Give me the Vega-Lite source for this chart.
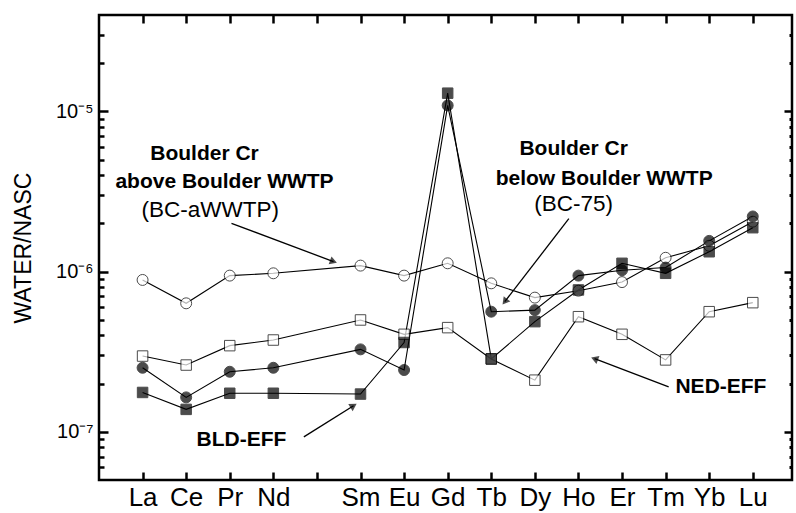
{
  "$schema": "https://vega.github.io/schema/vega-lite/v6.json",
  "padding": {"left": 11, "top": 12, "right": 0, "bottom": 0},
  "config": {
    "view": {"stroke": "black", "strokeWidth": 2.5},
    "axis": {"grid": false, "domain": false, "labelColor": "black", "tickColor": "black", "labelFont": "Liberation Sans", "titleFont": "Liberation Sans", "titleColor": "black", "labelOverlap": false, "labelFlush": false},
    "text": {"font": "Liberation Sans", "color": "black"}
  },
  "hconcat": [
    {
      "width": 693,
      "height": 465,
      "layer": [
        {
          "data": {"values": [
            {"s": "BC-aWWTP", "z": 57, "v": 8.87e-7}, {"s": "BC-aWWTP", "z": 58, "v": 6.34e-7}, {"s": "BC-aWWTP", "z": 59, "v": 9.44e-7}, {"s": "BC-aWWTP", "z": 60, "v": 9.76e-7}, {"s": "BC-aWWTP", "z": 62, "v": 1.09e-6}, {"s": "BC-aWWTP", "z": 63, "v": 9.44e-7}, {"s": "BC-aWWTP", "z": 64, "v": 1.127e-6}, {"s": "BC-aWWTP", "z": 65, "v": 8.45e-7}, {"s": "BC-aWWTP", "z": 66, "v": 6.88e-7}, {"s": "BC-aWWTP", "z": 67, "v": 7.6e-7}, {"s": "BC-aWWTP", "z": 68, "v": 8.6e-7}, {"s": "BC-aWWTP", "z": 69, "v": 1.22e-6}, {"s": "BC-aWWTP", "z": 70, "v": 1.45e-6}, {"s": "BC-aWWTP", "z": 71, "v": 2.05e-6},
            {"s": "NED-EFF", "z": 57, "v": 2.97e-7}, {"s": "NED-EFF", "z": 58, "v": 2.61e-7}, {"s": "NED-EFF", "z": 59, "v": 3.45e-7}, {"s": "NED-EFF", "z": 60, "v": 3.74e-7}, {"s": "NED-EFF", "z": 62, "v": 4.99e-7}, {"s": "NED-EFF", "z": 63, "v": 4.06e-7}, {"s": "NED-EFF", "z": 64, "v": 4.47e-7}, {"s": "NED-EFF", "z": 65, "v": 2.85e-7}, {"s": "NED-EFF", "z": 66, "v": 2.1e-7}, {"s": "NED-EFF", "z": 67, "v": 5.23e-7}, {"s": "NED-EFF", "z": 68, "v": 4.06e-7}, {"s": "NED-EFF", "z": 69, "v": 2.81e-7}, {"s": "NED-EFF", "z": 70, "v": 5.62e-7}, {"s": "NED-EFF", "z": 71, "v": 6.4e-7},
            {"s": "BC-75", "z": 57, "v": 2.51e-7}, {"s": "BC-75", "z": 58, "v": 1.64e-7}, {"s": "BC-75", "z": 59, "v": 2.37e-7}, {"s": "BC-75", "z": 60, "v": 2.51e-7}, {"s": "BC-75", "z": 62, "v": 3.27e-7}, {"s": "BC-75", "z": 63, "v": 2.43e-7}, {"s": "BC-75", "z": 64, "v": 1.09e-5}, {"s": "BC-75", "z": 65, "v": 5.62e-7}, {"s": "BC-75", "z": 66, "v": 5.75e-7}, {"s": "BC-75", "z": 67, "v": 9.44e-7}, {"s": "BC-75", "z": 68, "v": 1.02e-6}, {"s": "BC-75", "z": 69, "v": 1.06e-6}, {"s": "BC-75", "z": 70, "v": 1.556e-6}, {"s": "BC-75", "z": 71, "v": 2.21e-6},
            {"s": "BLD-EFF", "z": 57, "v": 1.76e-7}, {"s": "BLD-EFF", "z": 58, "v": 1.38e-7}, {"s": "BLD-EFF", "z": 59, "v": 1.74e-7}, {"s": "BLD-EFF", "z": 60, "v": 1.74e-7}, {"s": "BLD-EFF", "z": 62, "v": 1.72e-7}, {"s": "BLD-EFF", "z": 63, "v": 3.61e-7}, {"s": "BLD-EFF", "z": 64, "v": 1.3e-5}, {"s": "BLD-EFF", "z": 65, "v": 2.85e-7}, {"s": "BLD-EFF", "z": 66, "v": 4.87e-7}, {"s": "BLD-EFF", "z": 67, "v": 7.68e-7}, {"s": "BLD-EFF", "z": 68, "v": 1.127e-6}, {"s": "BLD-EFF", "z": 69, "v": 9.76e-7}, {"s": "BLD-EFF", "z": 70, "v": 1.33e-6}, {"s": "BLD-EFF", "z": 71, "v": 1.88e-6}
          ]},
          "mark": {"type": "line", "color": "black", "strokeWidth": 1.1},
          "encoding": {
            "x": {"field": "z", "type": "quantitative", "scale": {"domain": [56, 71.9], "nice": false, "zero": false},
              "axis": {"orient": "bottom", "title": null, "values": [57, 58, 59, 60, 61, 62, 63, 64, 65, 66, 67, 68, 69, 70, 71],
                "tickSize": -8, "tickWidth": 2.5, "labelFontSize": 26, "labelPadding": 12,
                "labelExpr": "['La','Ce','Pr','Nd','','Sm','Eu','Gd','Tb','Dy','Ho','Er','Tm','Yb','Lu'][datum.value - 57]"}},
            "y": {"field": "v", "type": "quantitative", "scale": {"type": "log", "domain": [5e-8, 4e-5], "nice": false},
              "axis": {"orient": "left", "title": "WATER/NASC", "titleFontSize": 23, "titleFontWeight": "normal", "titlePadding": 20,
                "values": [1e-7, 1e-6, 1e-5], "tickSize": -9, "tickWidth": 2.5, "labelFontSize": 20, "labelPadding": 15,
                "labelExpr": "datum.value > 5e-6 ? '10⁻⁵' : datum.value > 5e-7 ? '10⁻⁶' : '10⁻⁷'"}},
            "detail": {"field": "s", "type": "nominal"}
          }
        },
        {
          "data": {"values": [
            {"s": "BC-aWWTP", "z": 57, "v": 8.87e-7}, {"s": "BC-aWWTP", "z": 58, "v": 6.34e-7}, {"s": "BC-aWWTP", "z": 59, "v": 9.44e-7}, {"s": "BC-aWWTP", "z": 60, "v": 9.76e-7}, {"s": "BC-aWWTP", "z": 62, "v": 1.09e-6}, {"s": "BC-aWWTP", "z": 63, "v": 9.44e-7}, {"s": "BC-aWWTP", "z": 64, "v": 1.127e-6}, {"s": "BC-aWWTP", "z": 65, "v": 8.45e-7}, {"s": "BC-aWWTP", "z": 66, "v": 6.88e-7}, {"s": "BC-aWWTP", "z": 67, "v": 7.6e-7}, {"s": "BC-aWWTP", "z": 68, "v": 8.6e-7}, {"s": "BC-aWWTP", "z": 69, "v": 1.22e-6}, {"s": "BC-aWWTP", "z": 70, "v": 1.45e-6}, {"s": "BC-aWWTP", "z": 71, "v": 2.05e-6}
          ]},
          "mark": {"type": "point", "shape": "circle", "filled": true, "fill": "white", "stroke": "black", "strokeWidth": 1, "size": 120},
          "encoding": {
            "x": {"field": "z", "type": "quantitative",
              "axis": {"orient": "top", "title": null, "labels": false, "values": [57, 58, 59, 60, 61, 62, 63, 64, 65, 66, 67, 68, 69, 70, 71], "tickSize": -8, "tickWidth": 2.5}},
            "y": {"field": "v", "type": "quantitative",
              "axis": {"orient": "right", "title": null, "labels": false, "values": [1e-7, 1e-6, 1e-5], "tickSize": -8, "tickWidth": 2.5}}
          }
        },
        {
          "data": {"values": [
            {"s": "NED-EFF", "z": 57, "v": 2.97e-7}, {"s": "NED-EFF", "z": 58, "v": 2.61e-7}, {"s": "NED-EFF", "z": 59, "v": 3.45e-7}, {"s": "NED-EFF", "z": 60, "v": 3.74e-7}, {"s": "NED-EFF", "z": 62, "v": 4.99e-7}, {"s": "NED-EFF", "z": 63, "v": 4.06e-7}, {"s": "NED-EFF", "z": 64, "v": 4.47e-7}, {"s": "NED-EFF", "z": 65, "v": 2.85e-7}, {"s": "NED-EFF", "z": 66, "v": 2.1e-7}, {"s": "NED-EFF", "z": 67, "v": 5.23e-7}, {"s": "NED-EFF", "z": 68, "v": 4.06e-7}, {"s": "NED-EFF", "z": 69, "v": 2.81e-7}, {"s": "NED-EFF", "z": 70, "v": 5.62e-7}, {"s": "NED-EFF", "z": 71, "v": 6.4e-7}
          ]},
          "mark": {"type": "point", "shape": "square", "filled": true, "fill": "white", "stroke": "black", "strokeWidth": 1, "size": 110},
          "encoding": {
            "x": {"field": "z", "type": "quantitative",
              "axis": {"orient": "top", "title": null, "labels": false, "ticks": false, "domain": false}},
            "y": {"field": "v", "type": "quantitative",
              "axis": {"orient": "left", "title": null, "labels": false, "tickSize": -5, "tickWidth": 2.5,
                "values": [6e-8, 7e-8, 8e-8, 9e-8, 2e-7, 3e-7, 4e-7, 5e-7, 6e-7, 7e-7, 8e-7, 9e-7, 2e-6, 3e-6, 4e-6, 5e-6, 6e-6, 7e-6, 8e-6, 9e-6, 2e-5, 3e-5]}}
          }
        },
        {
          "data": {"values": [
            {"s": "BC-75", "z": 57, "v": 2.51e-7}, {"s": "BC-75", "z": 58, "v": 1.64e-7}, {"s": "BC-75", "z": 59, "v": 2.37e-7}, {"s": "BC-75", "z": 60, "v": 2.51e-7}, {"s": "BC-75", "z": 62, "v": 3.27e-7}, {"s": "BC-75", "z": 63, "v": 2.43e-7}, {"s": "BC-75", "z": 64, "v": 1.09e-5}, {"s": "BC-75", "z": 65, "v": 5.62e-7}, {"s": "BC-75", "z": 66, "v": 5.75e-7}, {"s": "BC-75", "z": 67, "v": 9.44e-7}, {"s": "BC-75", "z": 68, "v": 1.02e-6}, {"s": "BC-75", "z": 69, "v": 1.06e-6}, {"s": "BC-75", "z": 70, "v": 1.556e-6}, {"s": "BC-75", "z": 71, "v": 2.21e-6}
          ]},
          "mark": {"type": "point", "shape": "circle", "filled": true, "fill": "black", "stroke": "black", "strokeWidth": 1, "size": 120},
          "encoding": {
            "x": {"field": "z", "type": "quantitative",
              "axis": {"orient": "bottom", "title": null, "labels": false, "ticks": false, "domain": false}},
            "y": {"field": "v", "type": "quantitative",
              "axis": {"orient": "right", "title": null, "labels": false, "tickSize": -3, "tickWidth": 3,
                "values": [6e-8, 7e-8, 8e-8, 9e-8, 2e-7, 3e-7, 4e-7, 5e-7, 6e-7, 7e-7, 8e-7, 9e-7, 2e-6, 3e-6, 4e-6, 5e-6, 6e-6, 7e-6, 8e-6, 9e-6, 2e-5, 3e-5]}}
          }
        },
        {
          "data": {"values": [
            {"s": "BLD-EFF", "z": 57, "v": 1.76e-7}, {"s": "BLD-EFF", "z": 58, "v": 1.38e-7}, {"s": "BLD-EFF", "z": 59, "v": 1.74e-7}, {"s": "BLD-EFF", "z": 60, "v": 1.74e-7}, {"s": "BLD-EFF", "z": 62, "v": 1.72e-7}, {"s": "BLD-EFF", "z": 63, "v": 3.61e-7}, {"s": "BLD-EFF", "z": 64, "v": 1.3e-5}, {"s": "BLD-EFF", "z": 65, "v": 2.85e-7}, {"s": "BLD-EFF", "z": 66, "v": 4.87e-7}, {"s": "BLD-EFF", "z": 67, "v": 7.68e-7}, {"s": "BLD-EFF", "z": 68, "v": 1.127e-6}, {"s": "BLD-EFF", "z": 69, "v": 9.76e-7}, {"s": "BLD-EFF", "z": 70, "v": 1.33e-6}, {"s": "BLD-EFF", "z": 71, "v": 1.88e-6}
          ]},
          "mark": {"type": "point", "shape": "square", "filled": true, "fill": "black", "stroke": "black", "strokeWidth": 1, "size": 110},
          "encoding": {
            "x": {"field": "z", "type": "quantitative", "axis": null},
            "y": {"field": "v", "type": "quantitative", "axis": null}
          }
        },
        {
          "data": {"values": [
            {"t": "Boulder Cr", "x": 58.42, "y": 5.46e-6},
            {"t": "above Boulder WWTP", "x": 58.88, "y": 3.65e-6},
            {"t": "Boulder Cr", "x": 66.89, "y": 5.79e-6},
            {"t": "below Boulder WWTP", "x": 67.59, "y": 3.81e-6},
            {"t": "BLD-EFF", "x": 59.27, "y": 8.91e-8},
            {"t": "NED-EFF", "x": 70.27, "y": 1.91e-7}
          ]},
          "mark": {"type": "text", "fontSize": 21, "fontWeight": "bold", "align": "center", "baseline": "middle"},
          "encoding": {
            "x": {"field": "x", "type": "quantitative", "axis": null},
            "y": {"field": "y", "type": "quantitative", "axis": null},
            "text": {"field": "t", "type": "nominal"}
          }
        },
        {
          "data": {"values": [
            {"t": "(BC-aWWTP)", "x": 58.55, "y": 2.44e-6},
            {"t": "(BC-75)", "x": 66.89, "y": 2.66e-6}
          ]},
          "mark": {"type": "text", "fontSize": 22.5, "fontWeight": "normal", "align": "center", "baseline": "middle"},
          "encoding": {
            "x": {"field": "x", "type": "quantitative", "axis": null},
            "y": {"field": "y", "type": "quantitative", "axis": null},
            "text": {"field": "t", "type": "nominal"}
          }
        },
        {
          "data": {"values": [
            {"x": 59.04, "y": 2.0e-6, "x2": 61.38, "y2": 1.155e-6},
            {"x": 60.7, "y": 9.3e-8, "x2": 61.84, "y2": 1.454e-7},
            {"x": 66.78, "y": 2.14e-6, "x2": 65.31, "y2": 6.49e-7},
            {"x": 69.07, "y": 1.91e-7, "x2": 67.37, "y2": 2.86e-7}
          ]},
          "mark": {"type": "rule", "color": "black", "strokeWidth": 1.3},
          "encoding": {
            "x": {"field": "x", "type": "quantitative", "axis": null},
            "y": {"field": "y", "type": "quantitative", "axis": null},
            "x2": {"field": "x2"},
            "y2": {"field": "y2"}
          }
        },
        {
          "data": {"values": [{"x": 61.38, "y": 1.155e-6}]},
          "mark": {"type": "point", "shape": "triangle-up", "filled": true, "color": "black", "size": 70, "angle": 110},
          "encoding": {"x": {"field": "x", "type": "quantitative", "axis": null}, "y": {"field": "y", "type": "quantitative", "axis": null}}
        },
        {
          "data": {"values": [{"x": 61.84, "y": 1.454e-7}]},
          "mark": {"type": "point", "shape": "triangle-up", "filled": true, "color": "black", "size": 70, "angle": 58},
          "encoding": {"x": {"field": "x", "type": "quantitative", "axis": null}, "y": {"field": "y", "type": "quantitative", "axis": null}}
        },
        {
          "data": {"values": [{"x": 65.31, "y": 6.49e-7}]},
          "mark": {"type": "point", "shape": "triangle-up", "filled": true, "color": "black", "size": 70, "angle": 218},
          "encoding": {"x": {"field": "x", "type": "quantitative", "axis": null}, "y": {"field": "y", "type": "quantitative", "axis": null}}
        },
        {
          "data": {"values": [{"x": 67.37, "y": 2.86e-7}]},
          "mark": {"type": "point", "shape": "triangle-up", "filled": true, "color": "black", "size": 70, "angle": 291},
          "encoding": {"x": {"field": "x", "type": "quantitative", "axis": null}, "y": {"field": "y", "type": "quantitative", "axis": null}}
        }
      ],
      "resolve": {"axis": {"x": "independent", "y": "independent"}}
    }
  ]
}
